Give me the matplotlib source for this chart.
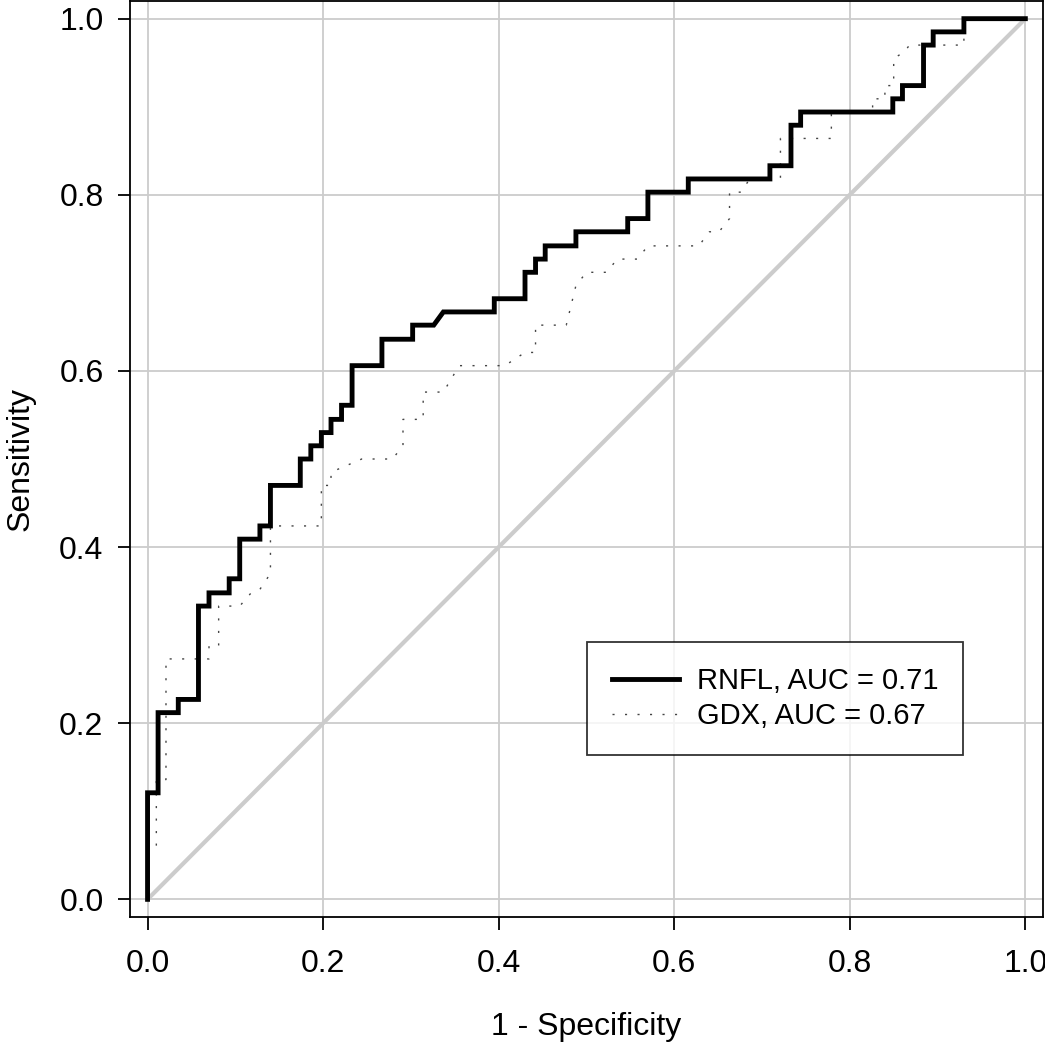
import matplotlib
matplotlib.use("Agg")
import matplotlib.pyplot as plt

plt.rcParams['font.family'] = ['Liberation Sans', 'DejaVu Sans']

# ROC curve points (1 - specificity, sensitivity)
rnfl_fpr = [0, 0, 0.012, 0.012, 0.035, 0.035, 0.058, 0.058, 0.070, 0.070,
            0.093, 0.093, 0.105, 0.105, 0.128, 0.128, 0.140, 0.140, 0.174, 0.174,
            0.186, 0.186, 0.198, 0.198, 0.209, 0.209, 0.221, 0.221, 0.233, 0.233,
            0.267, 0.267, 0.302, 0.302, 0.326, 0.337, 0.395, 0.395, 0.430, 0.430,
            0.442, 0.442, 0.453, 0.453, 0.488, 0.488, 0.547, 0.547, 0.570, 0.570,
            0.616, 0.616, 0.709, 0.709, 0.733, 0.733, 0.744, 0.744, 0.849, 0.849,
            0.860, 0.860, 0.884, 0.884, 0.895, 0.895, 0.930, 0.930, 1.0]
rnfl_tpr = [0, 0.121, 0.121, 0.212, 0.212, 0.227, 0.227, 0.333, 0.333, 0.348,
            0.348, 0.364, 0.364, 0.409, 0.409, 0.424, 0.424, 0.470, 0.470, 0.500,
            0.500, 0.515, 0.515, 0.530, 0.530, 0.545, 0.545, 0.561, 0.561, 0.606,
            0.606, 0.636, 0.636, 0.652, 0.652, 0.667, 0.667, 0.682, 0.682, 0.712,
            0.712, 0.727, 0.727, 0.742, 0.742, 0.758, 0.758, 0.773, 0.773, 0.803,
            0.803, 0.818, 0.818, 0.833, 0.833, 0.879, 0.879, 0.894, 0.894, 0.909,
            0.909, 0.924, 0.924, 0.970, 0.970, 0.985, 0.985, 1.0, 1.0]

gdx_fpr = [0, 0, 0.010, 0.010, 0.021, 0.021, 0.070, 0.070, 0.081, 0.081,
           0.105, 0.118, 0.128, 0.140, 0.140, 0.198, 0.198, 0.209, 0.209, 0.244,
           0.279, 0.291, 0.291, 0.314, 0.314, 0.337, 0.355, 0.407, 0.430, 0.442,
           0.442, 0.477, 0.488, 0.500, 0.523, 0.535, 0.558, 0.570, 0.628, 0.640,
           0.651, 0.663, 0.663, 0.676, 0.686, 0.721, 0.721, 0.779, 0.779, 0.826,
           0.826, 0.840, 0.840, 0.850, 0.850, 0.862, 0.868, 0.930, 0.930, 1.0]
gdx_tpr = [0, 0.061, 0.061, 0.136, 0.136, 0.273, 0.273, 0.288, 0.288, 0.333,
           0.333, 0.348, 0.352, 0.370, 0.424, 0.424, 0.470, 0.470, 0.485, 0.500,
           0.500, 0.515, 0.545, 0.545, 0.576, 0.576, 0.606, 0.606, 0.621, 0.621,
           0.652, 0.652, 0.697, 0.712, 0.712, 0.727, 0.727, 0.742, 0.742, 0.758,
           0.758, 0.773, 0.803, 0.803, 0.818, 0.818, 0.864, 0.864, 0.894, 0.894,
           0.909, 0.909, 0.924, 0.924, 0.955, 0.962, 0.970, 0.970, 1.0, 1.0]

labels = ['RNFL, AUC = 0.71', 'GDX, AUC = 0.67']
ticks = [0.0, 0.2, 0.4, 0.6, 0.8, 1.0]

fig = plt.figure(figsize=(10.45, 10.5), dpi=100)
ax = fig.add_axes([0.1244, 0.1267, 0.8736, 0.8723])

ax.set_xlim(-0.02, 1.02)
ax.set_ylim(-0.02, 1.02)
ax.set_xticks(ticks)
ax.set_yticks(ticks)
ax.set_xticklabels([f'{t:.1f}' for t in ticks])
ax.set_yticklabels([f'{t:.1f}' for t in ticks])
ax.grid(True, color='#cccccc', linewidth=1.3, zorder=0)
ax.set_axisbelow(True)

ax.plot([0, 1], [0, 1], color='#cccccc', linewidth=3.0, zorder=1,
        solid_capstyle='butt')
ax.plot(rnfl_fpr, rnfl_tpr, color='black', linewidth=3.5, zorder=3,
        label=labels[0], solid_joinstyle='miter')
ax.plot(gdx_fpr, gdx_tpr, color='#444444', linewidth=1.0,
        linestyle=(0, (1.5, 7.5)), zorder=2, label=labels[1])

for s in ax.spines.values():
    s.set_linewidth(1.3)
ax.tick_params(direction='out', length=9, width=1.3, labelsize=23,
               colors='black')
ax.tick_params(axis='x', pad=14)
ax.tick_params(axis='y', pad=10)

ax.set_xlabel('1 - Specificity', fontsize=23, labelpad=24)
ax.set_ylabel('Sensitivity', fontsize=23, labelpad=17)

leg = ax.legend(loc='upper left', bbox_to_anchor=(0.501, 0.300),
                fontsize=21, frameon=True, fancybox=False,
                handlelength=2.3, borderpad=0.85, labelspacing=0.25,
                handletextpad=0.6, borderaxespad=0)
leg.get_frame().set_edgecolor('black')
leg.get_frame().set_linewidth(1.3)

fig.savefig('out.png', dpi=100)
